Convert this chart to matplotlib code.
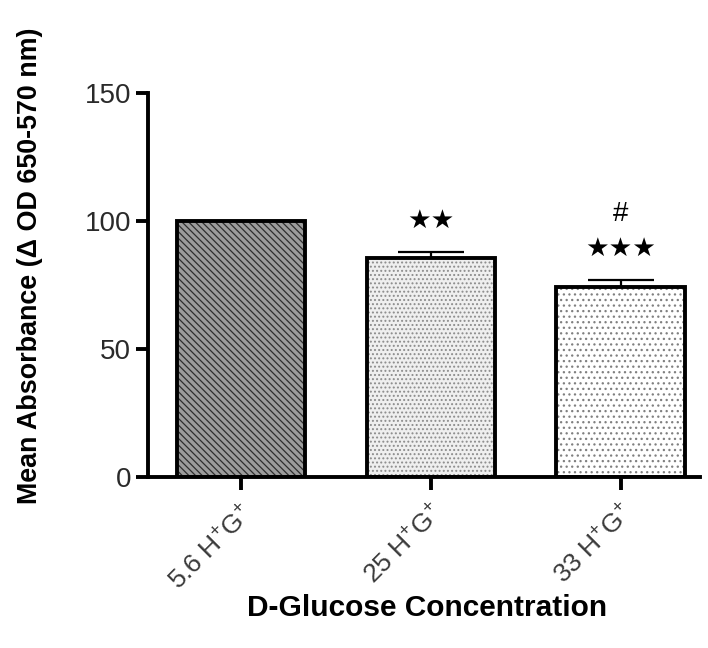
import matplotlib
matplotlib.use('Agg')
import matplotlib.pyplot as plt

# Values
GROUPS = ["5.6 H$^{+}$G$^{+}$", "25 H$^{+}$G$^{+}$", "33 H$^{+}$G$^{+}$"]
MEANS = [100.0, 85.5, 74.2]
SEM = [0.0, 2.5, 2.8]
STARS = [0, 2, 3]
HASH = ["", "", "#"]

FACES = ['#9c9c9c', '#efefef', '#ffffff']
HATCH_COLORS = ['#2e2e2e', '#8c8c8c', '#808080']
HATCHES = ['\\\\\\\\\\', '....', '...']

plt.rcParams['font.family'] = ['Liberation Sans', 'DejaVu Sans']
plt.rcParams['mathtext.fontset'] = 'custom'
plt.rcParams['mathtext.rm'] = 'Liberation Sans'
plt.rcParams['mathtext.it'] = 'Liberation Sans'
plt.rcParams['hatch.linewidth'] = 0.9

fig = plt.figure(figsize=(7.08, 6.48), dpi=100)
ax = fig.add_axes([0.209, 0.264, 0.78, 0.592])

x = range(len(GROUPS))
width = 0.675

# hatch layer, then black outline on top
ax.bar(x, MEANS, width, color=FACES, edgecolor=HATCH_COLORS, hatch=HATCHES,
       linewidth=0, zorder=2)
ax.bar(x, MEANS, width, fill=False, edgecolor='black', linewidth=2.8, zorder=3)
err_x = [i for i in x if SEM[i] > 0]
ax.errorbar(err_x, [MEANS[i] for i in err_x],
            yerr=[[0] * len(err_x), [SEM[i] for i in err_x]], fmt='none',
            ecolor='black', elinewidth=1.6, capsize=24, capthick=1.6, zorder=1)

# significance marks above the error bars
for i in x:
    top = MEANS[i] + SEM[i]
    if STARS[i]:
        ax.text(i, top + 12.3, '\u2605' * STARS[i],
                ha='center', va='center', fontsize=19, family='DejaVu Sans')
    if HASH[i]:
        ax.text(i, top + 26, HASH[i], ha='center', va='center', fontsize=20)

ax.set_ylim(0, 150)
ax.set_xlim(-0.49, 2.42)
ax.set_yticks([0, 50, 100, 150])
ax.set_xticks(list(x))
ax.set_xticklabels(GROUPS, rotation=45, ha='right', rotation_mode='anchor',
                   fontsize=19, color='#3a3a3a')
ax.tick_params(axis='y', labelsize=20, labelcolor='#2a2a2a', pad=3)
ax.tick_params(axis='x', pad=8)
ax.tick_params(width=2.8, length=9)

for side in ['top', 'right']:
    ax.spines[side].set_visible(False)
for side in ['left', 'bottom']:
    ax.spines[side].set_linewidth(2.8)

ax.set_ylabel('Mean Absorbance (\u0394 OD 650-570 nm)', fontsize=19.4,
              fontweight='bold')
ax.yaxis.set_label_coords(-0.19, 0.55)
ax.set_xlabel('D-Glucose Concentration', fontsize=21.5, fontweight='bold')
ax.xaxis.set_label_coords(0.506, -0.305)

fig.savefig('out.png', dpi=100)
